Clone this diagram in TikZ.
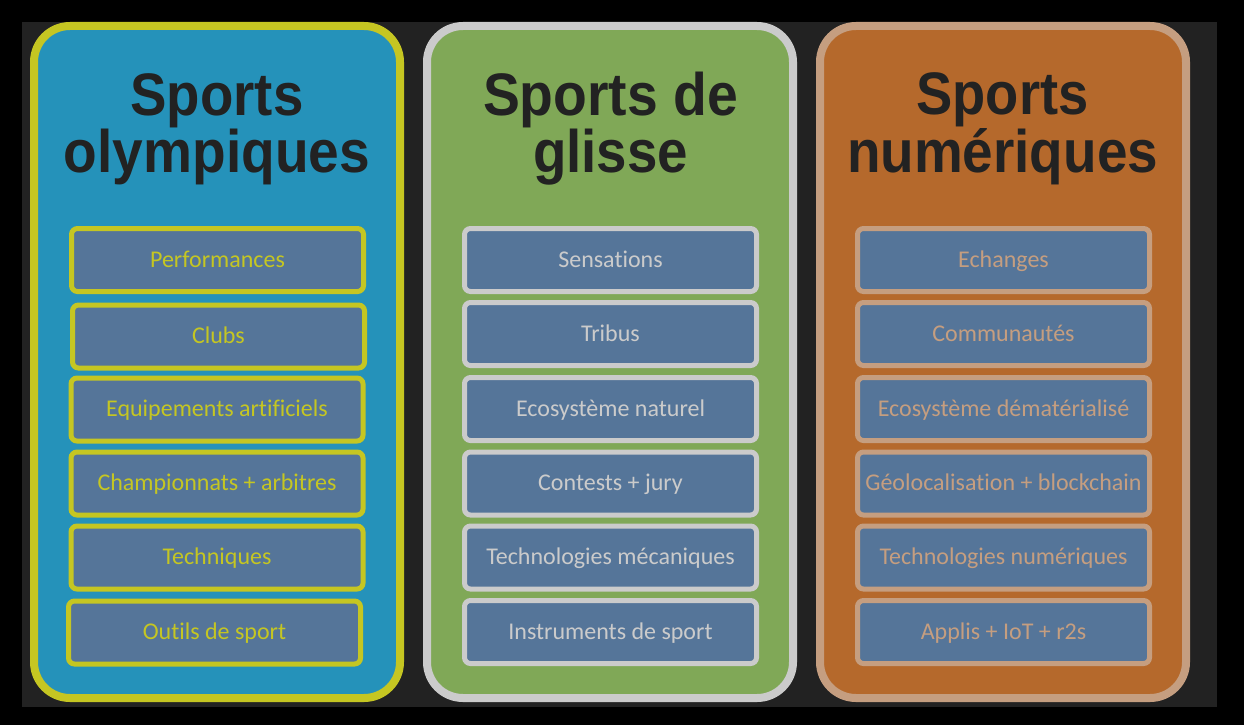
\documentclass[tikz,border=0pt]{standalone}
\usepackage{fontspec}
\newfontfamily\titlefont{Liberation Sans}
\newfontfamily\itemfont[Ligatures=NoCommon]{Carlito}
\definecolor{bggray}{HTML}{222222}
\definecolor{ink}{HTML}{222222}
\definecolor{boxblue}{HTML}{557599}
\definecolor{olyblue}{HTML}{2592BA}
\definecolor{olyline}{HTML}{C5C622}
\definecolor{glisgreen}{HTML}{80A857}
\definecolor{glisline}{HTML}{CBCBCB}
\definecolor{numorange}{HTML}{B5692C}
\definecolor{numline}{HTML}{C59E80}
\newcommand\ttl[2]{\resizebox{#1pt}{\height}{#2}}
\tikzset{
    panel/.style={draw=#1, line width=8pt, rounded corners=36pt,
        minimum width=366pt, minimum height=672pt, inner sep=0pt},
    title/.style={font=\titlefont\bfseries\fontsize{60}{55}\selectfont,
        text=ink, align=center, anchor=base},
    item/.style={draw=#1, text=#1, fill=boxblue, line width=5pt,
        rounded corners=6pt, minimum width=292pt, minimum height=63pt,
        inner sep=0pt, text height=17pt, text depth=3pt,
        font=\itemfont\fontsize{24}{28}\selectfont},
}
\begin{document}
\begin{tikzpicture}[x=1pt,y=-1pt]
        %% Background
        \fill[black] (0,0) rectangle (1244,725);
        \fill[bggray] (22,22) rectangle (1217,707);
        %% Panels
        \node[panel=olyline, fill=olyblue] (olymp) at (217,362) {};
        \node[panel=glisline, fill=glisgreen] (glisse) at (610,362) {};
        \node[panel=numline, fill=numorange] (numer) at (1003,362) {};
        %% Titles (base = last line)
        \node[title] (olymptitle) at (217,172)
            {\ttl{173}{Sports}\\\ttl{306}{olympiques}};
        \node[title] (glissetitle) at (610.5,172)
            {\ttl{255}{Sports de}\\\ttl{155}{glisse}};
        \node[title] (numertitle) at (1002.5,172)
            {\ttl{172}{Sports}\\\ttl{311}{numériques}};
        %% Sports olympiques
        \node[item=olyline] (olymp1) at (217.5,260) {Performances};
        \node[item=olyline] (olymp2) at (218.5,336.5) {Clubs};
        \node[item=olyline] (olymp3) at (217,409.5) {Equipements artificiels};
        \node[item=olyline] (olymp4) at (217,483.5) {Championnats + arbitres};
        \node[item=olyline] (olymp5) at (217,557.5) {Techniques};
        \node[item=olyline] (olymp6) at (214.5,632.5) {Outils de sport};
        %% Sports de glisse
        \node[item=glisline] (glisse1) at (610.5,260) {Sensations};
        \node[item=glisline] (glisse2) at (610.5,334) {Tribus};
        \node[item=glisline] (glisse3) at (610.5,409) {Ecosystème naturel};
        \node[item=glisline] (glisse4) at (610.5,483.5) {Contests + jury};
        \node[item=glisline] (glisse5) at (610.5,557.5) {Technologies mécaniques};
        \node[item=glisline] (glisse6) at (610.5,632) {Instruments de sport};
        %% Sports numeriques
        \node[item=numline] (numer1) at (1003.5,260) {Echanges};
        \node[item=numline] (numer2) at (1003.5,334) {Communautés};
        \node[item=numline] (numer3) at (1003.5,409) {Ecosystème dématérialisé};
        \node[item=numline] (numer4) at (1003.5,483.5) {Géolocalisation + blockchain};
        \node[item=numline] (numer5) at (1003.5,557.5) {Technologies numériques};
        \node[item=numline] (numer6) at (1003.5,632) {Applis + IoT + r2s};
    \end{tikzpicture}
\end{document}
